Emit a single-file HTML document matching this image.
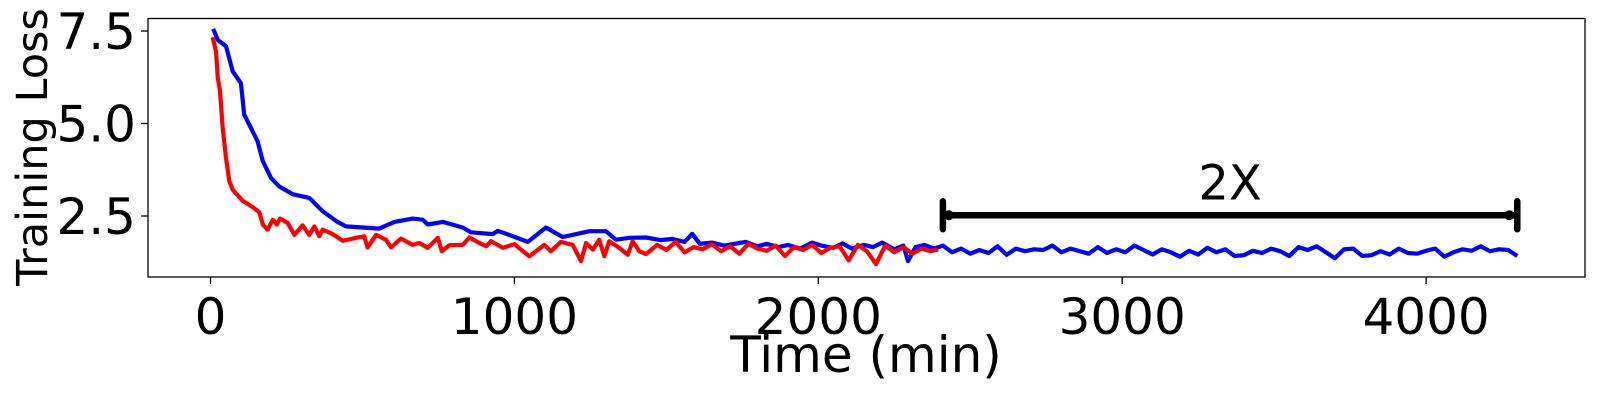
<!DOCTYPE html>
<html><head><meta charset="utf-8"><style>
body{margin:0;background:#fff;width:1600px;height:400px;overflow:hidden}
svg text{font-family:"DejaVu Sans","Liberation Sans",sans-serif;fill:#000}
</style></head><body>
<svg id="chart" width="1600" height="400">
<rect x="148" y="18.5" width="1437" height="258.5" fill="none" stroke="#000" stroke-width="1.3"/>
<g id="axes"></g>
<g id="series"></g>
<text x="866" y="372" font-size="50" text-anchor="middle">Time (min)</text>
<text transform="translate(47,147) rotate(-90)" font-size="43" text-anchor="middle">Training Loss</text>
<g>
<line id="brk" stroke="#000" stroke-width="6.5"/>
<line id="capL" stroke="#000" stroke-width="6.5" stroke-linecap="round"/>
<line id="capR" stroke="#000" stroke-width="6.5" stroke-linecap="round"/>
<circle id="dotL" r="5"/><circle id="dotR" r="5"/>
<text id="twox" font-size="48" text-anchor="middle">2X</text>
</g>
</svg>
<script>
const xTicks=[0,1000,2000,3000,4000];
const yTicks=[2.5,5.0,7.5];
const blueT=[9,24,51,73,100,111,155,172,199,226,270,325,369,418,446,555,605,665,698,715,764,830,857,929,945,983,1044,1104,1159,1247,1301,1334,1378,1433,1480,1520,1560,1585,1610,1650,1690,1720,1760,1800,1830,1870,1900,1940,1980,2010,2050,2080,2110,2150,2180,2210,2250,2280,2295,2320,2350,2380,2410,2440,2470,2500,2530,2560,2590,2620,2650,2680,2710,2740,2770,2800,2830,2860,2890,2920,2950,2980,3010,3040,3070,3100,3130,3160,3190,3220,3250,3280,3310,3340,3370,3400,3430,3460,3490,3520,3550,3580,3610,3640,3670,3700,3730,3760,3790,3820,3850,3880,3910,3940,3970,4000,4030,4060,4090,4120,4150,4180,4210,4240,4270,4300];
const blueV=[7.56,7.26,7.09,6.41,6.09,5.24,4.52,3.98,3.53,3.30,3.09,2.99,2.63,2.34,2.22,2.16,2.34,2.43,2.40,2.27,2.34,2.19,2.06,2.01,2.10,1.99,1.80,2.19,1.93,2.09,2.09,1.86,1.91,1.92,1.85,1.88,1.80,2.02,1.75,1.78,1.70,1.74,1.80,1.68,1.75,1.66,1.72,1.62,1.78,1.70,1.64,1.76,1.62,1.72,1.66,1.78,1.60,1.70,1.28,1.66,1.72,1.62,1.70,1.52,1.62,1.48,1.58,1.50,1.68,1.45,1.62,1.55,1.60,1.58,1.70,1.52,1.62,1.55,1.48,1.66,1.50,1.60,1.52,1.70,1.58,1.46,1.60,1.52,1.40,1.56,1.46,1.64,1.52,1.60,1.42,1.44,1.56,1.50,1.62,1.55,1.42,1.66,1.58,1.68,1.52,1.36,1.60,1.62,1.42,1.44,1.55,1.46,1.62,1.50,1.48,1.56,1.62,1.40,1.52,1.60,1.56,1.68,1.55,1.60,1.58,1.42];
const redT=[7,18,24,31,40,51,62,73,106,139,161,172,188,205,218,229,254,276,303,325,342,358,369,402,435,479,506,517,545,577,594,627,665,687,715,748,761,786,830,852,885,907,923,962,1000,1022,1049,1098,1120,1153,1192,1219,1236,1258,1279,1296,1312,1345,1373,1389,1411,1433,1470,1500,1530,1560,1590,1620,1650,1680,1710,1740,1770,1800,1830,1860,1890,1920,1950,1980,2010,2040,2070,2100,2130,2160,2190,2220,2250,2280,2310,2340,2370,2395];
const redV=[7.33,6.95,6.23,5.91,4.88,4.07,3.44,3.21,2.91,2.74,2.60,2.27,2.13,2.40,2.27,2.43,2.31,1.99,2.25,1.99,2.22,1.95,2.13,2.01,1.83,1.91,1.95,1.65,1.99,1.86,1.65,1.89,1.72,1.77,1.64,1.91,1.55,1.71,1.72,1.92,1.77,1.68,1.82,1.64,1.74,1.59,1.41,1.72,1.55,1.80,1.72,1.28,1.77,1.59,1.86,1.41,1.82,1.64,1.45,1.82,1.55,1.47,1.72,1.58,1.80,1.52,1.66,1.60,1.74,1.55,1.68,1.48,1.75,1.62,1.56,1.70,1.42,1.66,1.58,1.72,1.50,1.64,1.68,1.30,1.72,1.55,1.20,1.70,1.52,1.66,1.48,1.62,1.55,1.60];
const bracketStart=2410, bracketEnd=4300, bracketLevel=2.52, bracketLabel="2X";

const x=t=>210.5+t*0.3039;
const y=v=>216-(v-2.5)*37;
const NS="http://www.w3.org/2000/svg";
const axes=document.getElementById('axes');
xTicks.forEach(t=>{
  const l=document.createElementNS(NS,'line');
  l.setAttribute('x1',x(t));l.setAttribute('x2',x(t));l.setAttribute('y1',277);l.setAttribute('y2',284);l.setAttribute('stroke','#000');l.setAttribute('stroke-width','1.3');
  
  
  axes.appendChild(l);
  const tx=document.createElementNS(NS,'text');
  tx.setAttribute('x',x(t));tx.setAttribute('y',334);tx.setAttribute('font-size','50');tx.setAttribute('text-anchor','middle');
  tx.textContent=t;
  
  
  axes.appendChild(tx);
});
yTicks.forEach(v=>{
  const l=document.createElementNS(NS,'line');
  l.setAttribute('x1',141);l.setAttribute('x2',148);l.setAttribute('y1',y(v));l.setAttribute('y2',y(v));l.setAttribute('stroke','#000');l.setAttribute('stroke-width','1.3');
  
  
  axes.appendChild(l);
  const tx=document.createElementNS(NS,'text');
  tx.setAttribute('x',136);tx.setAttribute('y',y(v)+18);tx.setAttribute('font-size','50');tx.setAttribute('text-anchor','end');
  tx.textContent=v.toFixed(1);
  
  
  axes.appendChild(tx);
});
const series=document.getElementById('series');
function line(T,V,color,name){
  const p=document.createElementNS(NS,'polyline');
  p.setAttribute('points',T.map((t,i)=>x(t).toFixed(1)+','+y(V[i]).toFixed(1)).join(' '));
  p.setAttribute('fill','none');p.setAttribute('stroke',color);p.setAttribute('stroke-width','4.2');p.setAttribute('stroke-linejoin','round');
  
  
  series.appendChild(p);
}
line(blueT,blueV,'#0000ff','blue-series-line');
line(redT,redV,'#ff0000','red-series-line');
const by=y(bracketLevel),x1=x(bracketStart),x2=x(bracketEnd);
const b=document.getElementById('brk');
b.setAttribute('x1',x1);b.setAttribute('x2',x2);b.setAttribute('y1',by);b.setAttribute('y2',by);
const cl=document.getElementById('capL');cl.setAttribute('x1',x1);cl.setAttribute('x2',x1);cl.setAttribute('y1',by-14);cl.setAttribute('y2',by+14);
const cr=document.getElementById('capR');cr.setAttribute('x1',x2);cr.setAttribute('x2',x2);cr.setAttribute('y1',by-14);cr.setAttribute('y2',by+14);
const dl=document.getElementById('dotL');dl.setAttribute('cx',x1+6);dl.setAttribute('cy',by);
const dr=document.getElementById('dotR');dr.setAttribute('cx',x2-8);dr.setAttribute('cy',by);
const tw=document.getElementById('twox');tw.setAttribute('x',(x1+x2)/2);tw.setAttribute('y',by-16);tw.textContent=bracketLabel;
</script>
</body></html>
